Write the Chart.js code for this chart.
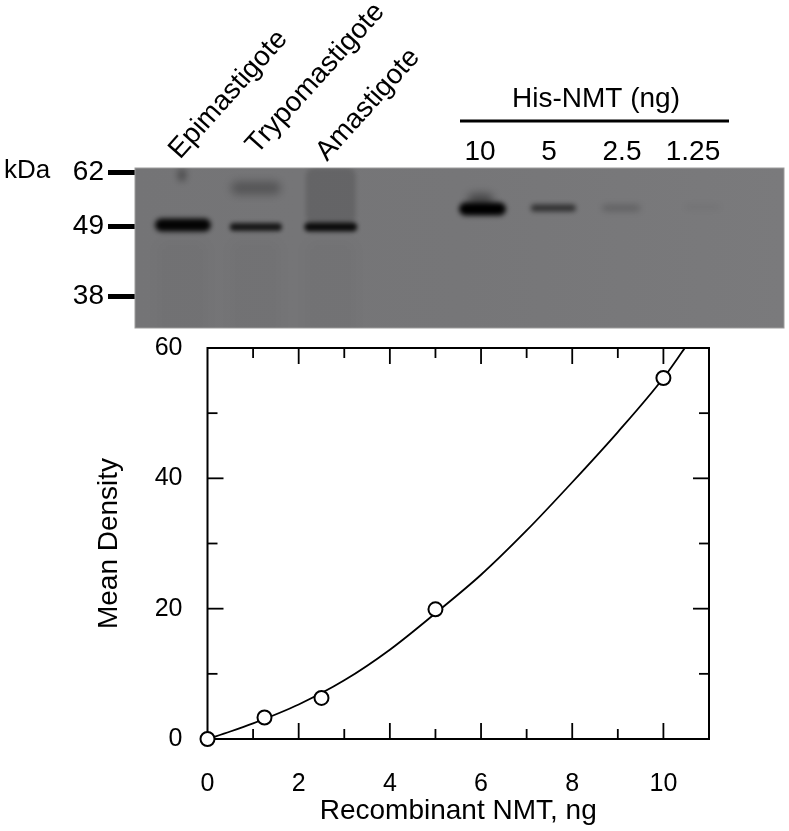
<!DOCTYPE html>
<html lang="en">
<head>
<meta charset="UTF-8">
<title>NMT western blot and density curve</title>
<script src="https://cdn.jsdelivr.net/npm/chart.js@4"></script>
<style>
    body { margin: 0; background: #fff; width: 789px; height: 831px; position: relative; overflow: hidden; }
    canvas { position: absolute; left: 0; display: block; }
    #gel { top: 0; }
    #curve { top: 330px; }
</style>
</head>
<body>
<canvas id="gel" width="789" height="340"></canvas>
<canvas id="curve" width="789" height="501"></canvas>

<script>
    // blot: labels
    const stages = ['Epimastigote', 'Trypomastigote', 'Amastigote'];
    const doses = ['10', '5', '2.5', '1.25'];
    const doseTitle = 'His-NMT (ng)';
    const kdaLabels = ['62', '49', '38'];
    const kdaMigration = [4.5, 58, 128];

    // blot: bands, lane centre and migration measured in the gel, density 0-1
    const bandLane = [48, 121, 196, 121, 47, 196, 48, 121, 196, 348, 346, 419, 487, 568];
    const bandMigration = [120, 120, 120, 20, 7, 28, 57, 59, 59, 41, 32, 40, 40, 39];
    const bandDensity = [0.025, 0.025, 0.025, 0.27, 0.3, 0.14, 0.97, 0.8, 0.9, 1, 0.4, 0.6, 0.2, 0.05];

    // curve
    const doseNg = [0, 1.25, 2.5, 5, 10];
    const meanDensity = [0, 3.3, 6.3, 19.9, 55.4];
    const fitX = [0, 0.5, 1, 2, 3, 4, 5, 6, 7, 8, 9, 10, 10.47];
    const fitY = [0, 1.15, 2.4, 5.3, 9, 13.7, 19.3, 25.2, 32, 39.4, 47.1, 55.4, 60];
    const xMajor = [2, 4, 6, 8, 10];
    const xMinor = [1, 3, 5, 7, 9];
    const yMajor = [20, 40];
    const yMinor = [10, 30, 50];

    // band shapes, same order as the arrays above
    const bandW = [50, 50, 50, 50, 9, 50, 56, 52, 53, 47, 26, 45, 38, 36];
    const bandH = [95, 95, 95, 13, 13, 56, 13, 8, 9, 13, 13, 7, 6, 5];
    const bandBlur = [6, 6, 6, 4, 3, 2, 2.6, 2.2, 2, 2.6, 4, 2.4, 3, 3];

    const textFont = 'Liberation Sans, Arial, sans-serif';

    function bandSprite(i) {
        const pad = 14;
        const c = document.createElement('canvas');
        c.width = bandW[i] + pad * 2;
        c.height = bandH[i] + pad * 2;
        const g = c.getContext('2d');
        g.filter = 'blur(' + bandBlur[i] + 'px)';
        g.fillStyle = 'rgba(0,0,0,' + bandDensity[i] + ')';
        g.beginPath();
        g.roundRect(pad, pad, bandW[i], bandH[i], Math.min(bandH[i] / 2, 8));
        g.fill();
        return c;
    }

    const gelPlugin = {
        id: 'gelPlugin',
        beforeDatasetsDraw(chart) {
            const ctx = chart.ctx, a = chart.chartArea;
            const grad = ctx.createLinearGradient(a.left, 0, a.right, 0);
            grad.addColorStop(0, '#747476');
            grad.addColorStop(0.5, '#767678');
            grad.addColorStop(1, '#7a7a7c');
            ctx.fillStyle = grad;
            ctx.fillRect(a.left, a.top, a.width, a.height);
            ctx.strokeStyle = '#9c9c9c';
            ctx.lineWidth = 1;
            ctx.strokeRect(a.left, a.top, a.width, a.height);
        },
        afterDraw(chart) {
            const ctx = chart.ctx;
            ctx.save();
            ctx.fillStyle = '#000';
            ctx.font = '28px ' + textFont;
            ctx.textBaseline = 'alphabetic';

            // rotated lane names
            const anchors = [[180, 160], [257, 155], [327, 162]];
            stages.forEach(function (name, i) {
                ctx.save();
                ctx.translate(anchors[i][0], anchors[i][1]);
                ctx.rotate(-48 * Math.PI / 180);
                ctx.textAlign = 'left';
                ctx.fillText(name, 0, 0);
                ctx.restore();
            });

            ctx.textAlign = 'center';
            const doseCentres = [480, 549, 622, 693];
            doses.forEach(function (d, i) {
                ctx.fillText(d, doseCentres[i], 160);
            });
            ctx.fillText(doseTitle, 596, 107);
            ctx.fillRect(460, 119.5, 269, 3);

            ctx.textAlign = 'left';
            ctx.font = '26px ' + textFont;
            ctx.fillText('kDa', 4, 178);
            ctx.restore();
        }
    };

    new Chart(document.getElementById('gel'), {
        type: 'scatter',
        data: {
            datasets: [{
                data: bandLane.map(function (x, i) { return { x: x, y: bandMigration[i] }; }),
                showLine: false,
                pointStyle: bandLane.map(function (x, i) { return bandSprite(i); }),
                pointRadius: 3
            }]
        },
        options: {
            responsive: false,
            animation: false,
            layout: { padding: { top: 168, right: 4, bottom: 12 } },
            plugins: { legend: { display: false }, tooltip: { enabled: false } },
            scales: {
                x: { type: 'linear', min: 0, max: 650, display: false },
                y: {
                    type: 'linear',
                    reverse: true,
                    min: 0,
                    max: 160,
                    afterFit: function (s) { s.width = 135; s.paddingTop = 0; s.paddingBottom = 0; },
                    afterBuildTicks: function (s) {
                        s.ticks = kdaMigration.map(function (v) { return { value: v }; });
                    },
                    grid: { drawOnChartArea: false, tickLength: 27, tickWidth: 5, tickColor: '#000' },
                    border: { display: false },
                    ticks: {
                        padding: 4,
                        color: '#000',
                        font: { family: textFont, size: 28 },
                        callback: function (v) { return kdaLabels[kdaMigration.indexOf(v)]; }
                    }
                }
            }
        },
        plugins: [gelPlugin]
    });

    // ticks of the frame all point inwards, on the four sides
    const framePlugin = {
        id: 'framePlugin',
        beforeDatasetsDraw(chart) {
            const ctx = chart.ctx, a = chart.chartArea, sx = chart.scales.x, sy = chart.scales.y;
            ctx.save();
            ctx.strokeStyle = '#000';
            ctx.lineWidth = 1.8;
            function seg(x1, y1, x2, y2) {
                ctx.beginPath();
                ctx.moveTo(x1, y1);
                ctx.lineTo(x2, y2);
                ctx.stroke();
            }
            function xTicks(list, len) {
                list.forEach(function (v) {
                    const p = sx.getPixelForValue(v);
                    seg(p, a.bottom, p, a.bottom - len);
                    seg(p, a.top, p, a.top + len);
                });
            }
            function yTicks(list, len) {
                list.forEach(function (v) {
                    const p = sy.getPixelForValue(v);
                    seg(a.left, p, a.left + len, p);
                    seg(a.right, p, a.right - len, p);
                });
            }
            xTicks(xMajor, 16);
            xTicks(xMinor, 10);
            yTicks(yMajor, 16);
            yTicks(yMinor, 10);
            ctx.lineWidth = 2;
            ctx.strokeRect(a.left, a.top, a.width, a.height);
            ctx.restore();
        }
    };

    new Chart(document.getElementById('curve'), {
        type: 'scatter',
        data: {
            datasets: [{
                label: 'Mean density',
                data: doseNg.map(function (x, i) { return { x: x, y: meanDensity[i] }; }),
                showLine: false,
                pointRadius: 7,
                pointBorderWidth: 2,
                pointBackgroundColor: '#fff',
                pointBorderColor: '#000',
                clip: false,
                order: 0
            }, {
                label: 'Fit',
                data: fitX.map(function (x, i) { return { x: x, y: fitY[i] }; }),
                showLine: true,
                cubicInterpolationMode: 'monotone',
                borderColor: '#000',
                borderWidth: 1.8,
                pointRadius: 0,
                order: 1
            }]
        },
        options: {
            responsive: false,
            animation: false,
            layout: { padding: { top: 18, right: 80 } },
            plugins: { legend: { display: false }, tooltip: { enabled: false } },
            scales: {
                x: {
                    type: 'linear',
                    min: 0,
                    max: 11,
                    afterFit: function (s) { s.height = 92; s.paddingLeft = 0; s.paddingRight = 0; },
                    grid: { display: false },
                    border: { display: false },
                    ticks: {
                        stepSize: 2,
                        includeBounds: false,
                        maxRotation: 0,
                        padding: 22,
                        color: '#000',
                        font: { family: textFont, size: 25 }
                    },
                    title: {
                        display: true,
                        text: 'Recombinant NMT, ng',
                        color: '#000',
                        font: { family: textFont, size: 28 },
                        padding: { top: 0, bottom: 3 }
                    }
                },
                y: {
                    type: 'linear',
                    min: 0,
                    max: 60,
                    afterFit: function (s) { s.width = 207.5; s.paddingTop = 0; s.paddingBottom = 0; },
                    grid: { display: false },
                    border: { display: false },
                    ticks: {
                        stepSize: 20,
                        padding: 17,
                        color: '#000',
                        font: { family: textFont, size: 25 }
                    },
                    title: {
                        display: true,
                        text: 'Mean Density',
                        color: '#000',
                        font: { family: textFont, size: 28 },
                        padding: { top: 92, bottom: 0 }
                    }
                }
            }
        },
        plugins: [framePlugin]
    });
</script>
</body>
</html>
